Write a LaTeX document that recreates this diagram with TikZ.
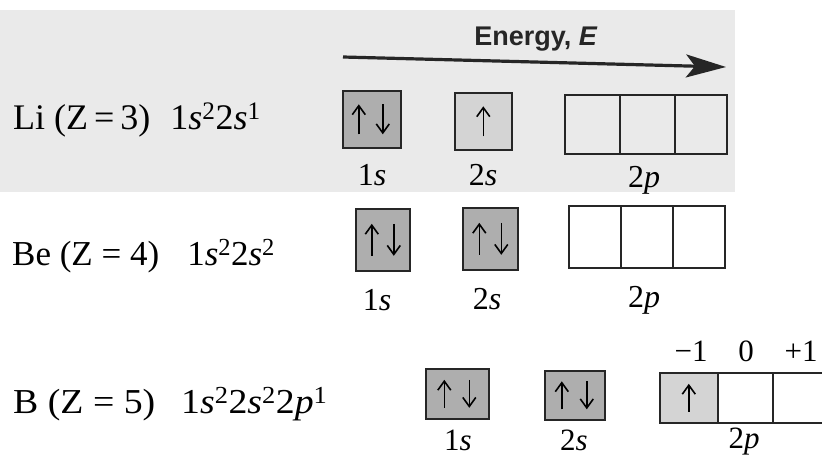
\documentclass[tikz,border=0pt]{standalone}
\usepackage{fontspec}
\setmainfont{Liberation Serif}
\newfontfamily\energyfont{Liberation Sans}
\usetikzlibrary{arrows.meta}
\definecolor{bandgray}{HTML}{EAEAEA}
\definecolor{darkfill}{HTML}{AEAEAE}
\definecolor{lightfill}{HTML}{D4D4D4}
\begin{document}
\begin{tikzpicture}[x=1pt,y=-1pt,
  orb/.style={draw=black!85, line width=1.6pt, inner sep=0pt, anchor=north west},
  spin/.style={line width=1.6pt, -{Straight Barb[length=9pt,width=13pt,line width=1.6pt]}},
  rowtext/.style={anchor=base west, inner sep=0pt},
  lab/.style={anchor=base, inner sep=0pt},
  ]
\useasboundingbox (0,0) rectangle (822,456);
\fill[bandgray] (0,10) rectangle (735,192);

% Energy arrow
\coordinate (estart) at (343,57);
\coordinate (eend) at (726,67);
\draw[line width=3.2pt, black!85, -{Stealth[length=40pt,width=23pt,inset=9pt]}] (estart) -- (eend);
\node[anchor=base, inner sep=0pt, font=\energyfont\bfseries\fontsize{27}{30}\selectfont, text=black!85] (energy) at (536,45) {Energy, \textit{E}};

% ---------- Li row ----------
\node[rowtext, font=\fontsize{36}{40}\selectfont] (li) at (13,129)
  {Li (Z\,=\,3)\hspace{20pt}1\textit{s}\textsuperscript{2}2\textit{s}\textsuperscript{1}};
\node[orb, fill=darkfill, minimum width=58pt, minimum height=57pt] (li1s) at (342,90) {};
\node[orb, fill=lightfill, minimum width=57pt, minimum height=57pt] (li2s) at (454,92) {};
\node[orb, minimum width=55pt, minimum height=59pt] (li2pa) at (564,94) {};
\node[orb, minimum width=55pt, minimum height=59pt] (li2pb) at (619,94) {};
\node[orb, minimum width=52pt, minimum height=59pt] (li2pc) at (674,94) {};
\draw[spin] ([xshift=-13pt,yshift=-15pt]li1s.center) -- ([xshift=-13pt,yshift=15pt]li1s.center);
\draw[spin] ([xshift=11pt,yshift=15pt]li1s.center) -- ([xshift=11pt,yshift=-15pt]li1s.center);
\draw[spin] ([yshift=-15pt]li2s.center) -- ([yshift=15pt]li2s.center);
\begin{scope}[font=\fontsize{32}{36}\selectfont]
\node[lab] (li1sl) at (372,185) {1\textit{s}};
\node[lab] (li2sl) at (483,185) {2\textit{s}};
\node[lab] (li2pl) at (644,187) {2\textit{p}};
\end{scope}

% ---------- Be row ----------
\node[rowtext, font=\fontsize{35}{40}\selectfont] (be) at (12,265)
  {Be (Z = 4)\hspace{28pt}1\textit{s}\textsuperscript{2}2\textit{s}\textsuperscript{2}};
\node[orb, fill=darkfill, minimum width=54pt, minimum height=62pt] (be1s) at (355,208) {};
\node[orb, fill=darkfill, minimum width=55pt, minimum height=62pt] (be2s) at (462,207) {};
\node[orb, minimum width=52pt, minimum height=62pt] (be2pa) at (568,205) {};
\node[orb, minimum width=52pt, minimum height=62pt] (be2pb) at (620,205) {};
\node[orb, minimum width=52pt, minimum height=62pt] (be2pc) at (672,205) {};
\draw[spin] ([xshift=-11pt,yshift=-16pt]be1s.center) -- ([xshift=-11pt,yshift=16pt]be1s.center);
\draw[spin] ([xshift=11pt,yshift=16pt]be1s.center) -- ([xshift=11pt,yshift=-16pt]be1s.center);
\draw[spin] ([xshift=-11pt,yshift=-16pt]be2s.center) -- ([xshift=-11pt,yshift=16pt]be2s.center);
\draw[spin] ([xshift=11pt,yshift=16pt]be2s.center) -- ([xshift=11pt,yshift=-16pt]be2s.center);
\begin{scope}[font=\fontsize{32}{36}\selectfont]
\node[lab] (be1sl) at (377,310) {1\textit{s}};
\node[lab] (be2sl) at (487,309) {2\textit{s}};
\node[lab] (be2pl) at (644,307) {2\textit{p}};
\end{scope}

% ---------- B row ----------
\node[rowtext, font=\fontsize{35}{40}\selectfont, xscale=1.08] (b) at (13,413)
  {B (Z = 5)\hspace{24pt}1\textit{s}\textsuperscript{2}2\textit{s}\textsuperscript{2}2\textit{p}\textsuperscript{1}};
\node[orb, fill=darkfill, minimum width=63pt, minimum height=50pt] (b1s) at (425,368) {};
\node[orb, fill=darkfill, minimum width=60pt, minimum height=49pt] (b2s) at (544,370) {};
\node[orb, fill=lightfill, minimum width=58pt, minimum height=50pt] (b2pa) at (659,372) {};
\node[orb, minimum width=55pt, minimum height=50pt] (b2pb) at (717,372) {};
\node[orb, minimum width=56pt, minimum height=50pt] (b2pc) at (772,372) {};
\draw[spin] ([xshift=-13pt,yshift=-14pt]b1s.center) -- ([xshift=-13pt,yshift=14pt]b1s.center);
\draw[spin] ([xshift=12pt,yshift=14pt]b1s.center) -- ([xshift=12pt,yshift=-14pt]b1s.center);
\draw[spin] ([xshift=-13pt,yshift=-14pt]b2s.center) -- ([xshift=-13pt,yshift=14pt]b2s.center);
\draw[spin] ([xshift=12pt,yshift=14pt]b2s.center) -- ([xshift=12pt,yshift=-14pt]b2s.center);
\draw[spin] ([yshift=-14pt]b2pa.center) -- ([yshift=14pt]b2pa.center);
\begin{scope}[font=\fontsize{31}{36}\selectfont]
\node[lab] (mone) at (691,361) {−1};
\node[lab] (zero) at (746,361) {0};
\node[lab] (pone) at (801,361) {+1};
\node[lab] (b1sl) at (458,450) {1\textit{s}};
\node[lab] (b2sl) at (574,450) {2\textit{s}};
\node[lab] (b2pl) at (744,448) {2\textit{p}};
\end{scope}
\end{tikzpicture}
\end{document}
